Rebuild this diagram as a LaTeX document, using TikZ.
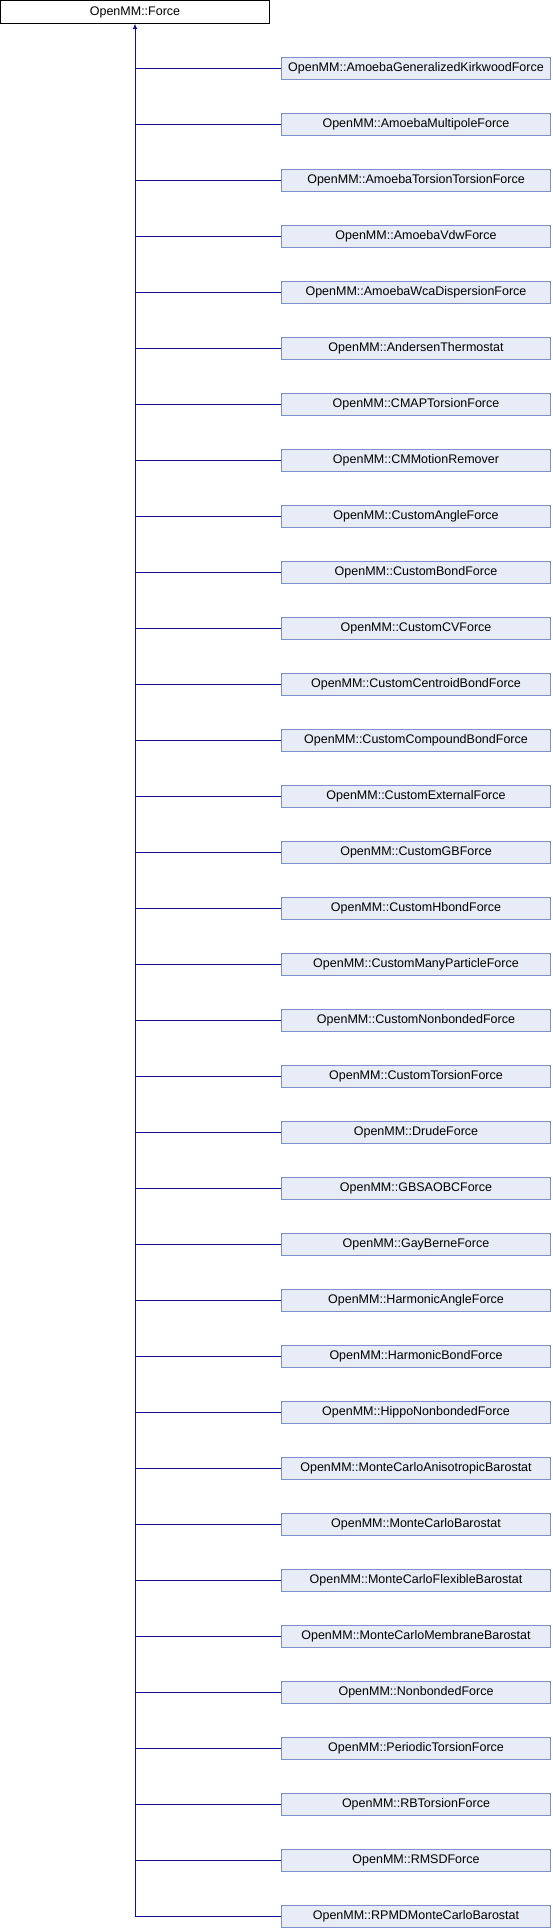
\documentclass[tikz,border=0pt]{standalone}
\usepackage{fontspec}
\setmainfont{Liberation Sans}
\usepackage{xcolor}
\usetikzlibrary{arrows.meta}
\definecolor{LinkBlue}{HTML}{101090}
\definecolor{BoxFill}{HTML}{E8ECF6}
\definecolor{BoxDraw}{HTML}{7D90CB}
\tikzset{
  BaseNode/.style = {align=center, inner sep=0pt, text centered, font=\fontsize{12.5}{14}\selectfont},
  RootNode/.style = {BaseNode, rectangle, draw=black, fill=white, minimum width=269pt, minimum height=23pt},
  ChildNode/.style = {BaseNode, rectangle, draw=BoxDraw, fill=BoxFill, minimum width=269pt, minimum height=22.5pt},
  LinkLine/.style = {draw=LinkBlue, line width=1pt},
}

\begin{document}
\begin{tikzpicture}[x=1pt,y=-1pt]
    \useasboundingbox (0,0) rectangle (552,1928);
    \node [RootNode] (force) at (135,12) {OpenMM::Force};
    \foreach \name [count=\i] in {AmoebaGeneralizedKirkwoodForce, AmoebaMultipoleForce,
        AmoebaTorsionTorsionForce, AmoebaVdwForce, AmoebaWcaDispersionForce,
        AndersenThermostat, CMAPTorsionForce, CMMotionRemover, CustomAngleForce,
        CustomBondForce, CustomCVForce, CustomCentroidBondForce, CustomCompoundBondForce,
        CustomExternalForce, CustomGBForce, CustomHbondForce, CustomManyParticleForce,
        CustomNonbondedForce, CustomTorsionForce, DrudeForce, GBSAOBCForce, GayBerneForce,
        HarmonicAngleForce, HarmonicBondForce, HippoNonbondedForce,
        MonteCarloAnisotropicBarostat, MonteCarloBarostat, MonteCarloFlexibleBarostat,
        MonteCarloMembraneBarostat, NonbondedForce, PeriodicTorsionForce, RBTorsionForce,
        RMSDForce, RPMDMonteCarloBarostat}
    {
        \node [ChildNode] (c\i) at (416,{68+56*(\i-1)}) {OpenMM::\name};
        \draw [LinkLine] (c\i.west) -- (c\i.west -| force.south);
    }
    % trunk up to the base class
    \draw [LinkLine, -{Latex[length=5.5pt,width=5pt]}] (c34.west -| force.south) -- (force.south);
\end{tikzpicture}
\end{document}
